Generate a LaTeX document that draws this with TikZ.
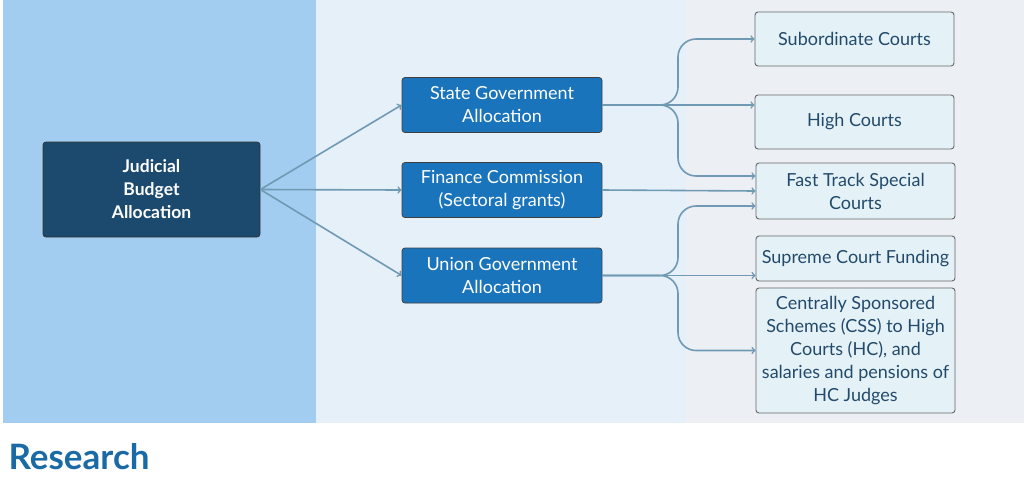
\documentclass[tikz,border=0pt]{standalone}
\usepackage{fontspec}
\setmainfont{Lato}
\usetikzlibrary{calc}
\definecolor{leftpanel}{HTML}{A3CDF0}
\definecolor{midpanel}{HTML}{E6F0F9}
\definecolor{rightpanel}{HTML}{ECEFF4}
\definecolor{rootblue}{HTML}{1C4A6E}
\definecolor{srcblue}{HTML}{1A74BB}
\definecolor{courtfill}{HTML}{E4F2F7}
\definecolor{courttext}{HTML}{234A6B}
\definecolor{arrowcol}{HTML}{7099B4}
\definecolor{researchblue}{HTML}{1A6AA6}

\begin{document}
\begin{tikzpicture}[x=1pt,y=-1pt,
  rootbox/.style={draw=black!80,line width=0.8pt,fill=rootblue,rounded corners=3pt,minimum width=217pt,minimum height=95pt,text=white,align=center,font=\bfseries\fontsize{17.5}{23}\selectfont},
  srcbox/.style={draw=black!75,line width=0.8pt,fill=srcblue,rounded corners=3pt,minimum width=200pt,minimum height=55pt,text=white,align=center,font=\fontsize{18}{23}\selectfont},
  courtbox/.style={draw=black!60,line width=0.9pt,fill=courtfill,rounded corners=3pt,minimum width=199pt,text=courttext,align=center,font=\fontsize{18}{23}\selectfont},
  conn/.style={->,draw=arrowcol,line width=1.6pt}
]
\useasboundingbox (0,0) rectangle (1024,483);

%Panels
\fill[leftpanel] (3,0) rectangle (316,423);
\fill[midpanel] (316,0) rectangle (686,423);
\fill[rightpanel] (686,0) rectangle (1024,423);

%Boxes
\node[rootbox] (budget) at (151.5,189.5) {Judicial\\Budget\\Allocation};
\node[srcbox] (state) at (502,105) {State Government\\Allocation};
\node[srcbox] (finance) at (502,190) {Finance Commission\\(Sectoral grants)};
\node[srcbox] (union) at (502,275.5) {Union Government\\Allocation};

\node[courtbox,minimum height=54pt] (subord) at (854.5,39) {Subordinate Courts};
\node[courtbox,minimum height=54pt] (high) at (854.5,122) {High Courts};
\node[courtbox,minimum height=56pt] (fast) at (855.5,191) {Fast Track Special\\Courts};
\node[courtbox,minimum height=45pt] (supreme) at (855.5,258.5) {Supreme Court Funding};
\node[courtbox,minimum height=125pt] (css) at (855.5,350.5) {Centrally Sponsored\\Schemes (CSS) to High\\Courts (HC), and\\salaries and pensions of\\HC Judges};

\node[anchor=west,text=researchblue,font=\bfseries\fontsize{35}{40}\selectfont] (research) at (5,457) {Research};

%Arrows
\draw[conn] (budget.east) -- (state.west);
\draw[conn] (budget.east) -- (finance.west);
\draw[conn] (budget.east) -- (union.west);

\coordinate (sfork) at (678,105);
\draw[conn,rounded corners=18pt] (state.east) -- (sfork) |- (subord.west);
\draw[conn] (state.east) -- (high.west |- state.east);
\draw[conn,rounded corners=18pt] (state.east) -- (sfork) |- ([yshift=15pt]fast.west);

\draw[conn] (finance.east) -- (fast.west);

\coordinate (ufork) at (678,275.5);
\draw[conn,rounded corners=18pt] (union.east) -- (ufork) |- ([yshift=-15pt]fast.west);
\draw[conn] (union.east) -- (supreme.west |- union.east);
\draw[conn,rounded corners=18pt] (union.east) -- (ufork) |- (css.west);
\end{tikzpicture}
\end{document}
